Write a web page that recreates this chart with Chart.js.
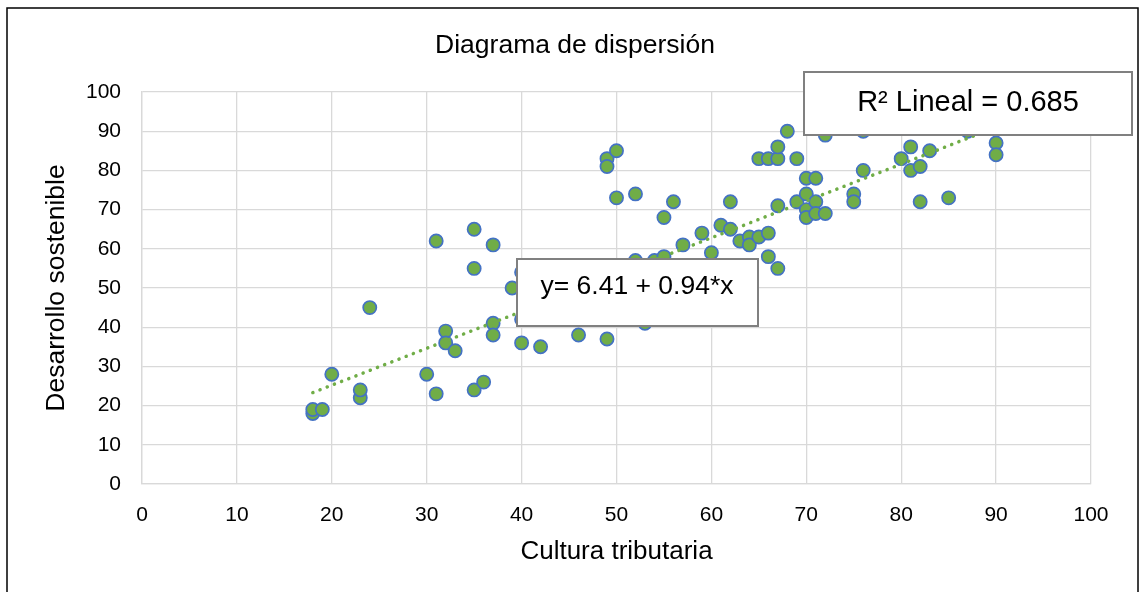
<!DOCTYPE html>
<html>
<head>
<meta charset="utf-8">
<script src="https://cdn.jsdelivr.net/npm/chart.js@4.4.1/dist/chart.umd.min.js"></script>
<style>
  html, body { margin: 0; padding: 0; background: #fff; }
  #wrap { width: 1140px; height: 592px; }
</style>
</head>
<body>
<div id="wrap"><canvas id="scatterChart" width="1140" height="592"></canvas></div>
<script>
// valores
const culturaTributaria = [18, 18, 19, 20, 23, 23, 24, 30, 31, 31, 32, 32, 33, 35, 35, 35, 36, 37, 37, 37,
  39, 40, 40, 40, 42, 46, 49, 49, 49, 50, 50, 52, 52, 53, 54, 55, 55, 56, 57, 59,
  60, 61, 62, 62, 63, 64, 64, 65, 65, 66, 66, 66, 67, 67, 67, 67, 68, 69, 69, 70,
  70, 70, 70, 71, 71, 71, 72, 72, 75, 75, 76, 76, 80, 81, 81, 82, 82, 83, 85, 87,
  90, 90];
const desarrolloSostenible = [18, 19, 19, 28, 22, 24, 45, 28, 23, 62, 39, 36, 34, 65, 55, 24, 26, 61, 41, 38,
  50, 54, 42, 36, 35, 38, 37, 83, 81, 85, 73, 74, 57, 41, 57, 58, 68, 72, 61, 64,
  59, 66, 65, 72, 62, 63, 61, 63, 83, 64, 58, 83, 55, 71, 83, 86, 90, 83, 72, 78,
  74, 70, 68, 78, 72, 69, 69, 89, 74, 72, 80, 90, 83, 86, 80, 81, 72, 85, 73, 90,
  87, 84];

const xTicks = [0, 10, 20, 30, 40, 50, 60, 70, 80, 90, 100];
const yTicks = [0, 10, 20, 30, 40, 50, 60, 70, 80, 90, 100];

// recta de regresion y = a + b*x
const intercepto = 6.41;
const pendiente = 0.94;
const r2 = 0.685;
const trendRange = [18, 90];

const puntos = culturaTributaria.map((x, i) => ({ x: x, y: desarrolloSostenible[i] }));
const tendencia = trendRange.map(x => ({ x: x, y: intercepto + pendiente * x }));

const FONT = 'Liberation Sans, Arial, sans-serif';

// marco, titulo y cuadros de texto
const extras = {
  id: 'extras',
  afterDatasetsDraw(chart) {
    const ctx = chart.ctx;
    ctx.save();
    ctx.strokeStyle = '#808080';
    ctx.lineWidth = 2;
    ctx.fillStyle = '#fff';

    // cuadro de la ecuacion
    ctx.fillRect(517, 259, 241, 67);
    ctx.strokeRect(517, 259, 241, 67);
    // cuadro del R2
    ctx.fillRect(804, 72, 328, 63);
    ctx.strokeRect(804, 72, 328, 63);

    ctx.fillStyle = '#000';
    ctx.textAlign = 'center';
    ctx.textBaseline = 'alphabetic';
    ctx.font = '26.5px ' + FONT;
    ctx.fillText('y= ' + intercepto.toFixed(2) + ' + ' + pendiente.toFixed(2) + '*x', 637, 294);
    ctx.font = '29px ' + FONT;
    ctx.fillText('R\u00B2 Lineal = ' + r2.toFixed(3), 968, 111);
    ctx.restore();
  },
  afterDraw(chart) {
    const ctx = chart.ctx;
    ctx.save();
    ctx.fillStyle = '#000';
    ctx.textAlign = 'center';
    ctx.textBaseline = 'middle';
    ctx.font = '26.5px ' + FONT;
    ctx.fillText('Diagrama de dispersión', 575, 46);
    ctx.strokeStyle = '#000';
    ctx.lineWidth = 1.5;
    ctx.strokeRect(7, 8, 1131, 620);
    ctx.restore();
  }
};

new Chart(document.getElementById('scatterChart'), {
  type: 'scatter',
  data: {
    datasets: [
      {
        type: 'line',
        label: 'Lineal',
        data: tendencia,
        borderColor: '#70AD47',
        borderWidth: 3.5,
        borderDash: [0.1, 7.6],
        borderCapStyle: 'round',
        pointRadius: 0,
        fill: false,
        order: 0
      },
      {
        label: 'Desarrollo sostenible',
        data: puntos,
        backgroundColor: '#70AD47',
        borderColor: '#4472C4',
        borderWidth: 1.7,
        pointRadius: 6.6,
        order: 1
      }
    ]
  },
  options: {
    responsive: false,
    animation: false,
    layout: { padding: { top: 92, right: 49, bottom: 0, left: 0 } },
    plugins: {
      legend: { display: false },
      tooltip: { enabled: false },
      title: { display: false }
    },
    scales: {
      x: {
        type: 'linear',
        min: 0,
        max: 100,
        afterBuildTicks: s => { s.ticks = xTicks.map(v => ({ value: v })); },
        afterFit: s => { s.height = 108; },
        grid: { color: '#d9d9d9', lineWidth: 1.3, drawTicks: false },
        border: { color: '#d9d9d9', width: 1.3 },
        ticks: { color: '#000', padding: 19, font: { family: FONT, size: 21 } },
        title: {
          display: true,
          text: 'Cultura tributaria',
          color: '#000',
          font: { family: FONT, size: 26 },
          padding: { top: 0, bottom: 25 }
        }
      },
      y: {
        type: 'linear',
        min: 0,
        max: 100,
        afterBuildTicks: s => { s.ticks = yTicks.map(v => ({ value: v })); },
        afterFit: s => { s.width = 142; },
        grid: { color: '#d9d9d9', lineWidth: 1.3, drawTicks: false },
        border: { color: '#d9d9d9', width: 1.3 },
        ticks: { color: '#000', padding: 21, font: { family: FONT, size: 21 } },
        title: {
          display: true,
          text: 'Desarrollo sostenible',
          color: '#000',
          font: { family: FONT, size: 26.5 },
          padding: { top: 41, bottom: 0 }
        }
      }
    }
  },
  plugins: [extras]
});
</script>
</body>
</html>
